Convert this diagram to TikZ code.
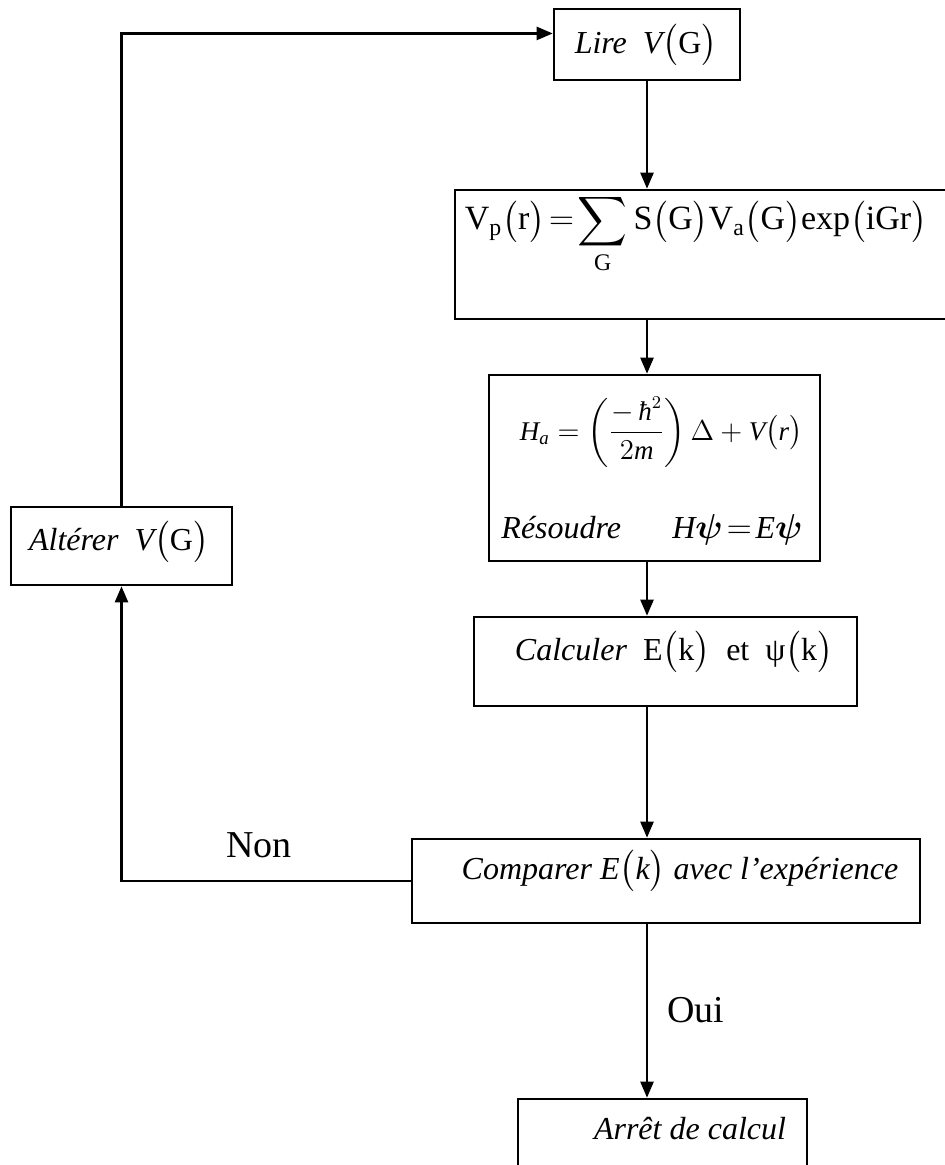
\documentclass[tikz,border=0pt]{standalone}
\usepackage{amsmath,bm}
\usepackage{fontspec}
\setmainfont{Liberation Serif}
\usepackage{tikz}
\usetikzlibrary{arrows.meta,calc}

\begin{document}
\begin{tikzpicture}[x=0.5pt,y=-0.5pt,
  stepbox/.style={rectangle, draw=black, line width=1.3pt, inner sep=0pt},
  flow/.style={line width=1.2pt, -{Triangle[length=8pt,width=6.5pt]}},
  txt/.style={font=\fontsize{16}{19}\selectfont, inner sep=0pt},
  answer/.style={font=\fontsize{19}{22}\selectfont, inner sep=0pt}
]
\useasboundingbox (0,0) rectangle (945,1165);
% boxes of the loop
\node[stepbox, minimum width=93pt, minimum height=35.5pt] (lire) at (647,44.5) {};
\node[stepbox, minimum width=247.5pt, minimum height=64.5pt] (vp) at (702.5,254.5) {};
\node[stepbox, minimum width=165.5pt, minimum height=93pt] (ham) at (654.5,468) {};
\node[stepbox, minimum width=191.5pt, minimum height=44.5pt] (calc) at (665.5,661.5) {};
\node[stepbox, minimum width=254pt, minimum height=42pt] (comp) at (666,881) {};
\node[stepbox, minimum width=144.5pt, minimum height=45.5pt] (stop) at (662.5,1144.5) {};
\node[stepbox, minimum width=110.5pt, minimum height=39pt] (alter) at (121.5,546) {};

% texts
\node[txt] (liret) at (646,45) {\textit{Lire}\ \ $\mathit{V}\bigl(\mathrm{G}\bigr)$};
\node[txt, anchor=base, font=\fontsize{17}{20}\selectfont] (vpt) at (696,230)
  {$\displaystyle \mathrm{V_p}\bigl(\mathrm{r}\bigr)\!=\!\sum_{\mathrm{G}}\mathrm{S}\bigl(\mathrm{G}\bigr)\mathrm{V_a}\bigl(\mathrm{G}\bigr)\mathrm{exp}\bigl(\mathrm{iGr}\bigr)$};
\node[txt, font=\fontsize{13.5}{16}\selectfont] (hamt) at (661,432)
  {$\displaystyle \mathit{H}_{\mathit{a}} = \left(\frac{-\,\text{\textit{ħ}}^{2}}{2\mathit{m}}\right)\Delta + \mathit{V}\bigl(\mathit{r}\bigr)$};
\node[txt] (solve) at (652,530) {\textit{Résoudre}\hspace{1.6em}$\mathit{H}\bm{\psi}\!=\!\mathit{E}\bm{\psi}$};
\node[txt] (calct) at (674,652) {\textit{Calculer}\ \ E$\bigl($k$\bigr)$\ \ et\ \ ψ$\bigl($k$\bigr)$};
\node[txt] (compt) at (680,871) {\textit{Comparer} $\mathit{E}\bigl(\mathit{k}\bigr)$ \textit{avec l’expérience}};
\node[txt] (stopt) at (690,1129) {\textit{Arrêt de calcul}};
\node[txt] (altert) at (119,542) {\textit{Altérer}\ \ $\mathit{V}\bigl(\mathrm{G}\bigr)$};
\node[answer] (non) at (259,845) {Non};
\node[answer] (oui) at (696,1010) {Oui};

% connectors
\draw[flow] (lire.south) -- (lire.south |- vp.north);
\draw[flow] (lire.south |- vp.south) -- (lire.south |- ham.north);
\draw[flow] (lire.south |- ham.south) -- (lire.south |- calc.north);
\draw[flow] (lire.south |- calc.south) -- (lire.south |- comp.north);
\draw[flow] (lire.south |- comp.south) -- (lire.south |- stop.north);
\draw[flow] (comp.west) -- (alter.south |- comp.west) -- (alter.south);
\coordinate (entry) at ($(lire.north west)!0.35!(lire.south west)$);
\draw[flow] (alter.north) -- (alter.north |- entry) -- (entry);
\end{tikzpicture}
\end{document}
